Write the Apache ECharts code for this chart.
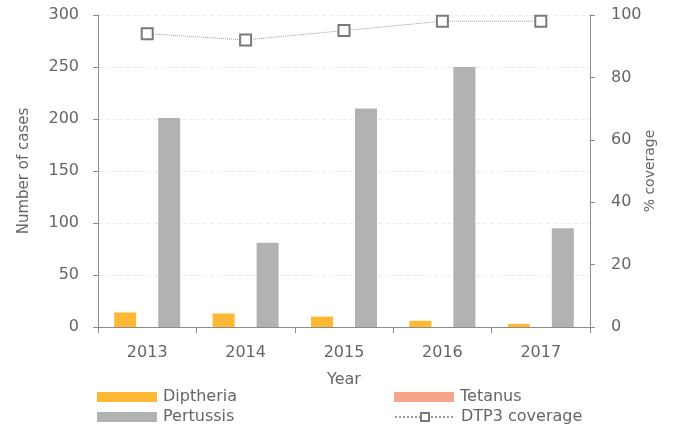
<!DOCTYPE html>
<html><head><meta charset="utf-8">
<script src="https://cdn.jsdelivr.net/npm/echarts@6/dist/echarts.min.js"></script>
<style>html,body{margin:0;padding:0;background:#fff}#c{width:674px;height:431px}</style>
</head><body><div id="c"></div>
<script>
const years = ['2013','2014','2015','2016','2017'];
const diptheria = [14, 13, 10, 6, 3];
const tetanus = [0, 0, 0, 0, 0];
const pertussis = [201, 81, 210, 250, 95];
const dtp3 = [94, 92, 95, 98, 98];

const FONT = '"DejaVu Sans", sans-serif';
const TXT = '#666666';
const chart = echarts.init(document.getElementById('c'));
const legendBase = {itemWidth: 60, itemHeight: 10, itemGap: 0, textStyle: {fontFamily: FONT, fontSize: 16, color: TXT, padding: [0,0,0,1]}, padding: 0};
chart.setOption({
  animation: false,
  textStyle: {fontFamily: FONT},
  grid: {left: 98, right: 84, top: 15, bottom: 104},
  legend: [
    Object.assign({left: 97, top: 389, data: [{name: 'Diptheria', icon: 'rect'}]}, legendBase),
    Object.assign({left: 394, top: 389, data: [{name: 'Tetanus', icon: 'rect'}]}, legendBase),
    Object.assign({left: 97, top: 409, data: [{name: 'Pertussis', icon: 'rect'}]}, legendBase),
    Object.assign({left: 394, top: 409, data: [{name: 'DTP3 coverage'}]}, legendBase)
  ],
  xAxis: {
    type: 'category', data: years,
    name: 'Year', nameLocation: 'middle', nameGap: 45,
    nameTextStyle: {fontSize: 16, color: TXT, fontFamily: FONT},
    axisLine: {lineStyle: {color: '#8c8c8c'}},
    axisTick: {show: true, length: 6, lineStyle: {color: '#8c8c8c'}},
    axisLabel: {fontSize: 16, color: TXT, margin: 18, fontFamily: FONT}
  },
  yAxis: [{
    type: 'value', min: 0, max: 300, interval: 50,
    name: 'Number of cases', nameLocation: 'middle', nameGap: 66, nameRotate: 90, nameMoveOverlap: false,
    nameTextStyle: {fontSize: 15, color: TXT, fontFamily: FONT},
    axisLine: {show: true, lineStyle: {color: '#8c8c8c'}},
    axisTick: {show: true, length: 5, lineStyle: {color: '#8c8c8c'}},
    axisLabel: {fontSize: 16, color: TXT, margin: 19, fontFamily: FONT},
    splitLine: {show: true, lineStyle: {color: '#ebebeb', type: [4, 3]}}
  }, {
    type: 'value', min: 0, max: 100, interval: 20, position: 'right',
    name: '% coverage', nameLocation: 'middle', nameGap: 53, nameRotate: 90, nameMoveOverlap: false,
    nameTextStyle: {fontSize: 14, color: TXT, fontFamily: FONT},
    axisLine: {show: true, lineStyle: {color: '#8c8c8c'}},
    axisTick: {show: true, length: 5, lineStyle: {color: '#8c8c8c'}},
    axisLabel: {fontSize: 16, color: TXT, margin: 21, fontFamily: FONT},
    splitLine: {show: false}
  }],
  series: [
    {name: 'Diptheria', type: 'bar', data: diptheria, barWidth: 22, barGap: '0%', itemStyle: {color: '#FDB933'}},
    {name: 'Tetanus', type: 'bar', data: tetanus, barWidth: 22, itemStyle: {color: '#F7A48A'}},
    {name: 'Pertussis', type: 'bar', data: pertussis, barWidth: 22, itemStyle: {color: '#B1B3B3'}},
    {name: 'DTP3 coverage', type: 'line', yAxisIndex: 1, data: dtp3,
     symbol: 'rect', symbolSize: 11, showAllSymbol: true,
     lineStyle: {color: '#9a9a9a', width: 1, type: 'dotted'},
     itemStyle: {color: '#fff', borderColor: '#7a7a7a', borderWidth: 2}}
  ]
});
</script></body></html>
